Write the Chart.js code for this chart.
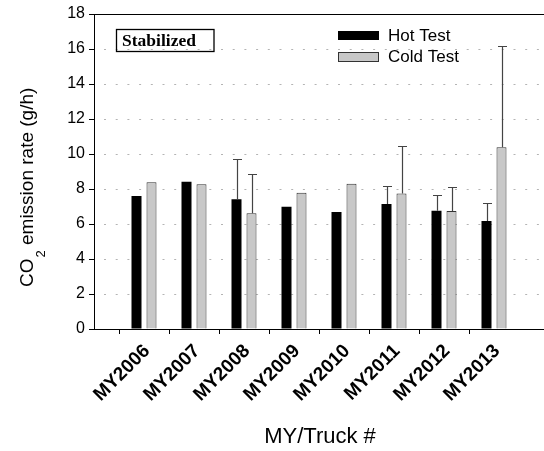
<!DOCTYPE html>
<html><head><meta charset="utf-8">
<script src="https://cdn.jsdelivr.net/npm/chart.js@4/dist/chart.umd.min.js"></script>
<style>html,body{margin:0;padding:0;background:#fff}#wrap{width:544px;height:451px;position:relative}</style>
</head><body><div id="wrap"><canvas id="c" width="544" height="451"></canvas></div>
<script>
const categories = ['MY2006','MY2007','MY2008','MY2009','MY2010','MY2011','MY2012','MY2013'];
const hotValues  = [7.60, 8.42, 7.41, 6.99, 6.69, 7.14, 6.76, 6.17];
const coldValues = [8.38, 8.27, 6.61, 7.79, 8.30, 7.75, 6.74, 10.38];
const hotErrors  = [null, null, 2.28, null, null, 1.01, 0.90, 1.01];
const coldErrors = [null, null, 2.27, null, null, 2.71, 1.36, 5.81];
const yTicks = [0, 2, 4, 6, 8, 10, 12, 14, 16, 18];
const seriesNames = ['Hot Test', 'Cold Test'];

const labels = [''].concat(categories, ['']);
const pad = arr => [null].concat(arr, [null]);
const FONT = '"Liberation Sans", Arial, sans-serif';

const errorPlugin = {
  id: 'errs',
  afterDatasetsDraw(chart) {
    const ctx = chart.ctx, y = chart.scales.y;
    const errs = [hotErrors, coldErrors];
    const vals = [hotValues, coldValues];
    ctx.save();
    ctx.strokeStyle = '#444';
    ctx.lineWidth = 1.2;
    [0, 1].forEach(d => {
      const meta = chart.getDatasetMeta(d);
      errs[d].forEach((e, i) => {
        if (e == null) return;
        const bar = meta.data[i + 1];
        const x = Math.round(bar.x) + 0.5;
        const y0 = y.getPixelForValue(vals[d][i]);
        const y1 = Math.round(y.getPixelForValue(vals[d][i] + e)) + 0.5;
        ctx.beginPath();
        ctx.moveTo(x, y0); ctx.lineTo(x, y1);
        ctx.moveTo(x - 4.5, y1); ctx.lineTo(x + 4.5, y1);
        ctx.stroke();
      });
    });
    ctx.restore();
  }
};

const decorPlugin = {
  id: 'decor',
  afterDraw(chart) {
    const ctx = chart.ctx, a = chart.chartArea;
    ctx.save();
    // top frame
    ctx.strokeStyle = '#000'; ctx.lineWidth = 1;
    ctx.beginPath(); ctx.moveTo(a.left, a.top + 0.5); ctx.lineTo(a.right, a.top + 0.5); ctx.stroke();
    // Stabilized box
    ctx.lineWidth = 1.3;
    ctx.strokeRect(116.5, 29.5, 97.5, 22);
    ctx.fillStyle = '#000';
    ctx.font = 'bold 17.5px "Liberation Serif", "Times New Roman", serif';
    ctx.textAlign = 'left'; ctx.textBaseline = 'alphabetic';
    ctx.fillText('Stabilized', 122, 46);
    // legend
    ctx.fillStyle = '#000';
    ctx.fillRect(338, 31, 41, 9);
    ctx.fillStyle = '#c8c8c8';
    ctx.fillRect(338.5, 52.5, 40, 9);
    ctx.strokeStyle = '#333'; ctx.lineWidth = 1;
    ctx.strokeRect(338.5, 52.5, 40, 9);
    ctx.fillStyle = '#000';
    ctx.font = '17px ' + FONT;
    ctx.textBaseline = 'middle';
    ctx.fillText(chart.data.datasets[0].label, 388, 36);
    ctx.fillText(chart.data.datasets[1].label, 388, 57);
    // x title
    ctx.font = '22px ' + FONT;
    ctx.textAlign = 'center'; ctx.textBaseline = 'alphabetic';
    ctx.fillText('MY/Truck #', 320, 443);
    // y title
    ctx.translate(33, 287);
    ctx.rotate(-Math.PI / 2);
    ctx.textAlign = 'left';
    ctx.font = '19px ' + FONT;
    ctx.fillText('CO', 0, 0);
    let w = ctx.measureText('CO').width;
    ctx.font = '13px ' + FONT;
    ctx.fillText('2', w + 1, 12);
    w += ctx.measureText('2').width + 1;
    ctx.font = '19px ' + FONT;
    ctx.fillText(' emission rate (g/h)', w, 0);
    ctx.restore();
  }
};

new Chart(document.getElementById('c'), {
  type: 'bar',
  data: {
    labels: labels,
    datasets: [
      { label: seriesNames[0], data: pad(hotValues), backgroundColor: '#000', borderColor: '#000', borderWidth: 0,
        categoryPercentage: 0.6, barPercentage: 0.667 },
      { label: seriesNames[1], data: pad(coldValues), backgroundColor: '#c8c8c8', borderColor: '#333', borderWidth: 1,
        categoryPercentage: 0.6, barPercentage: 0.667 }
    ]
  },
  options: {
    responsive: false,
    animation: false,
    devicePixelRatio: 1,
    layout: { padding: { top: 14, right: 0, left: 0, bottom: 0 } },
    plugins: { legend: { display: false }, tooltip: { enabled: false } },
    scales: {
      x: {
        offset: false,
        grid: { drawOnChartArea: false, drawTicks: true, tickLength: 5,
          tickColor: c => (c.index === 0 || c.index === labels.length - 1) ? 'rgba(0,0,0,0)' : '#000' },
        border: { display: true, color: '#000', width: 1 },
        ticks: { autoSkip: false, minRotation: 45, maxRotation: 45, padding: 6, labelOffset: 3, color: '#000',
          font: { family: FONT, size: 19, weight: 'bold' } },
        afterFit: s => { s.height = 122; s.paddingRight = 0; s.paddingLeft = 0; }
      },
      y: {
        min: 0, max: 18,
        afterBuildTicks: s => { s.ticks = yTicks.map(v => ({ value: v })); },
        grid: { color: c => (c.tick && (c.tick.value === 0 || c.tick.value === 18)) ? 'rgba(0,0,0,0)' : '#b4b4b4',
          lineWidth: 1, drawTicks: true, tickLength: 5, tickColor: '#000' },
        border: { display: true, color: '#000', width: 1, dash: [2, 9.7], dashOffset: 2.7 },
        ticks: { padding: 4, color: '#000', font: { family: FONT, size: 16 } },
        afterFit: s => { s.width = 94; }
      }
    }
  },
  plugins: [errorPlugin, decorPlugin]
});
</script></body></html>
